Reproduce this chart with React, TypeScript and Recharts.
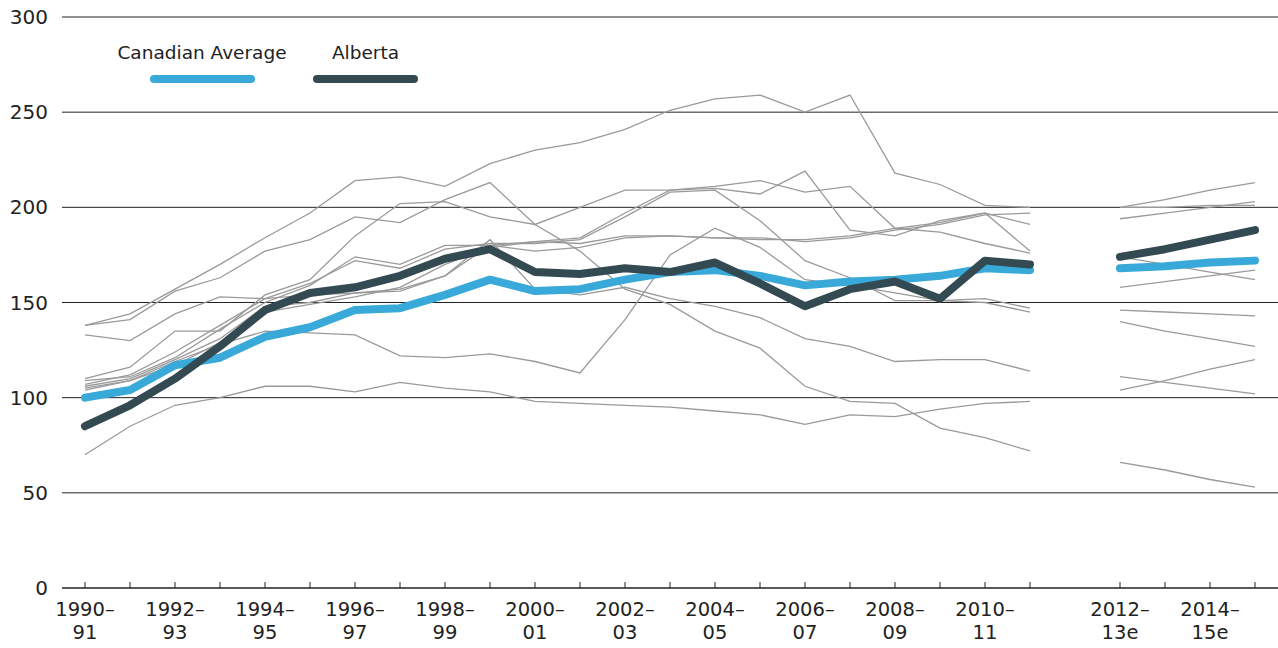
import { LineChart, Line, CartesianGrid, XAxis, YAxis, Legend } from 'recharts';

const categories = [
  '1990–91', '1991–92', '1992–93', '1993–94', '1994–95', '1995–96', '1996–97', '1997–98',
  '1998–99', '1999–00', '2000–01', '2001–02', '2002–03', '2003–04', '2004–05', '2005–06',
  '2006–07', '2007–08', '2008–09', '2009–10', '2010–11', '2011–12', '',
  '2012–13e', '2013–14e', '2014–15e', '2015–16e',
];

const labelledTicks = [
  '1990–91', '1992–93', '1994–95', '1996–97', '1998–99', '2000–01', '2002–03',
  '2004–05', '2006–07', '2008–09', '2010–11', '2012–13e', '2014–15e',
];

const canadianAverage = [100, 104, 117, 121, 132, 137, 146, 147, 154, 162, 156, 157, 162, 166, 167, 164, 159, 161, 162, 164, 168, 167, null, 168, 169, 171, 172];
const alberta = [85, 96, 110, 127, 146, 155, 158, 164, 173, 178, 166, 165, 168, 166, 171, 160, 148, 157, 161, 152, 172, 170, null, 174, 178, 183, 188];

// other provinces, drawn thin and grey
const prov1 = [138, 144, 157, 170, 184, 197, 214, 216, 211, 223, 230, 234, 241, 251, 257, 259, 250, 259, 218, 212, 201, 200, null, 200, 204, 209, 213];
const prov2 = [106, 110, 120, 131, 148, 150, 155, 156, 164, 180, 177, 179, 184, 185, 184, 184, 182, 184, 188, 191, 196, 197, null, 200, 200, 201, 201];
const prov3 = [104, 109, 117, 129, 145, 149, 153, 158, 170, 179, 182, 181, 185, 185, 184, 183, 183, 185, 189, 192, 197, 191, null, 194, 197, 200, 203];
const prov4 = [109, 111, 121, 136, 150, 159, 174, 170, 180, 180, 182, 184, 197, 209, 210, 207, 219, 188, 185, 193, 197, 177, null, 174, 170, 166, 162];
const prov5 = [110, 116, 135, 135, 154, 162, 185, 202, 203, 195, 191, 200, 209, 209, 211, 214, 208, 211, 189, 187, 181, 176, null, 158, 161, 164, 167];
const prov6 = [107, 112, 124, 138, 152, 160, 172, 168, 178, 181, 181, 183, 195, 208, 209, 193, 172, 163, 151, 151, 152, 147, null, 146, 145, 144, 143];
const prov7 = [105, 109, 119, 128, 135, 134, 133, 122, 121, 123, 119, 113, 141, 175, 189, 179, 162, 159, 155, 151, 150, 145, null, 140, 135, 131, 127];
const prov8 = [133, 130, 144, 153, 152, 154, 155, 157, 164, 183, 157, 154, 158, 152, 148, 142, 131, 127, 119, 120, 120, 114, null, 111, 108, 105, 102];
const prov9 = [70, 85, 96, 100, 106, 106, 103, 108, 105, 103, 98, 97, 96, 95, 93, 91, 86, 91, 90, 94, 97, 98, null, 104, 109, 115, 120];
const prov10 = [138, 141, 156, 163, 177, 183, 195, 192, 204, 213, 191, 177, 157, 149, 135, 126, 106, 98, 97, 84, 79, 72, null, 66, 62, 57, 53];

const provinces = [prov1, prov2, prov3, prov4, prov5, prov6, prov7, prov8, prov9, prov10];

const data = categories.map((cat, i) => {
  const row: any = { cat, avg: canadianAverage[i], ab: alberta[i] };
  provinces.forEach((p, j) => { row['p' + j] = p[i]; });
  return row;
});

const FONT = '"DejaVu Sans", sans-serif';

const XTick = (props: any) => {
  const { x, y, payload } = props;
  const label: string = payload.value;
  if (!label) return null;
  const show = labelledTicks.includes(label);
  const [a, b] = label.split('–');
  return (
    <g>
      <line x1={x} x2={x} y1={y} y2={y - 6} stroke="#222" />
      {show && (
        <text textAnchor="middle" fontSize={19.5} fill="#222" fontFamily={FONT}>
          <tspan x={x} y={y + 28}>{a + '–'}</tspan>
          <tspan x={x} y={y + 51}>{b}</tspan>
        </text>
      )}
    </g>
  );
};

const LegendBox = () => (
  <div style={{ display: 'flex', fontFamily: FONT, fontSize: 18.5, color: '#222' }}>
    <div style={{ width: 170, display: 'flex', flexDirection: 'column', alignItems: 'center' }}>
      <div style={{ lineHeight: '22px', whiteSpace: 'nowrap' }}>Canadian Average</div>
      <div style={{ width: 105, height: 8, borderRadius: 4, background: '#38a9d9', marginTop: 11 }} />
    </div>
    <div style={{ width: 105, marginLeft: 26, display: 'flex', flexDirection: 'column', alignItems: 'center' }}>
      <div style={{ lineHeight: '22px' }}>Alberta</div>
      <div style={{ width: 105, height: 8, borderRadius: 4, background: '#344a53', marginTop: 11 }} />
    </div>
  </div>
);

const App = () => {
  return (
    <div style={{ position: 'absolute', left: 0, top: 0 }}>
      <LineChart width={1278} height={648} data={data} margin={{ top: 17, right: 0, bottom: 0, left: 0 }} style={{ fontFamily: FONT }}>
        <CartesianGrid vertical={false} stroke="#222" strokeWidth={1} />
        <XAxis
          dataKey="cat"
          height={60}
          interval={0}
          tickSize={0}
          tickMargin={0}
          tickLine={false}
          axisLine={{ stroke: '#222' }}
          padding={{ left: 23, right: 23 }}
          tick={<XTick />}
        />
        <YAxis
          width={62}
          domain={[0, 300]}
          ticks={[0, 50, 100, 150, 200, 250, 300]}
          axisLine={false}
          tickLine={false}
          tickSize={0}
          tickMargin={14}
          tick={{ fontSize: 20, fill: '#222', fontFamily: FONT }}
        />
        <Legend
          verticalAlign="middle"
          align="center"
          content={<LegendBox />}
          wrapperStyle={{ position: 'absolute', left: 117, top: 42, width: 'auto', height: 'auto' }}
        />
        {provinces.map((_, j) => (
          <Line
            key={j}
            dataKey={'p' + j}
            stroke="#9a9a9a"
            strokeWidth={1.3}
            dot={false}
            activeDot={false}
            legendType="none"
            isAnimationActive={false}
          />
        ))}
        <Line dataKey="avg" name="Canadian Average" stroke="#38a9d9" strokeWidth={8} strokeLinecap="round" strokeLinejoin="round" dot={false} activeDot={false} isAnimationActive={false} />
        <Line dataKey="ab" name="Alberta" stroke="#344a53" strokeWidth={8} strokeLinecap="round" strokeLinejoin="round" dot={false} activeDot={false} isAnimationActive={false} />
      </LineChart>
    </div>
  );
};

export default App;
